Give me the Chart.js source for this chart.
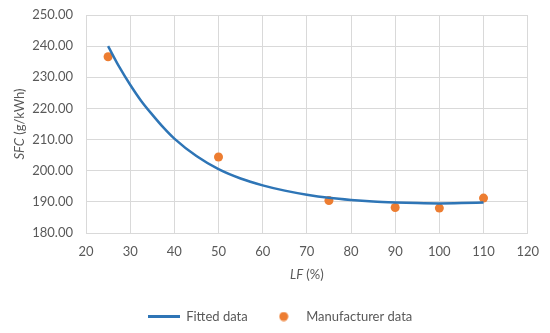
<!DOCTYPE html>
<html>
<head>
<meta charset="utf-8">
<script src="https://cdn.jsdelivr.net/npm/chart.js@4"></script>
<style>
  body { margin: 0; background: #ffffff; }
  #box { width: 550px; height: 333px; }
</style>
</head>
<body>
<div id="box"><canvas id="grafico" width="550" height="333"></canvas></div>
<script>
// dados
const lfFitted  = [25, 27.5, 30, 32.5, 35, 37.5, 40, 45, 50, 55, 60, 65, 70, 75, 80, 85, 90, 95, 100, 105, 110];
const sfcFitted = [240.0, 233.4, 227.6, 222.4, 218.0, 213.9, 210.3, 204.7, 200.5, 197.5, 195.3, 193.6, 192.3, 191.3, 190.6, 190.1, 189.8, 189.6, 189.5, 189.6, 189.8];

const lfMaker  = [25, 50, 75, 90, 100, 110];
const sfcMaker = [236.6, 204.4, 190.4, 188.2, 188.0, 191.2];

const xTicks = [20, 120, 10];   // min, max, passo
const yTicks = [180, 250, 10];

const azul = '#2e75b6';
const laranja = '#ed7d31';
const cinza = '#595959';
const fonte = 'Lato, "Open Sans", sans-serif';

// ícones da legenda
function iconeLinha() {
  const c = document.createElement('canvas');
  c.width = 32; c.height = 3;
  const g = c.getContext('2d');
  g.fillStyle = azul;
  g.fillRect(0, 0, 32, 3);
  return c;
}
function iconeCirculo() {
  const c = document.createElement('canvas');
  c.width = 10; c.height = 10;
  const g = c.getContext('2d');
  g.fillStyle = laranja;
  g.beginPath();
  g.arc(5, 5, 4.5, 0, Math.PI * 2);
  g.fill();
  return c;
}
const icones = [iconeLinha(), iconeCirculo()];

// títulos dos eixos com parte em itálico
const titulosEixos = {
  id: 'titulosEixos',
  afterDraw(chart) {
    const ctx = chart.ctx;
    const area = chart.chartArea;
    function escreve(partes, x, y, rot) {
      ctx.save();
      ctx.translate(x, y);
      ctx.rotate(rot);
      ctx.fillStyle = cinza;
      ctx.textBaseline = 'middle';
      let total = 0;
      partes.forEach(p => { ctx.font = p[1] + ' 13px ' + fonte; total += ctx.measureText(p[0]).width; });
      let pos = -total / 2;
      partes.forEach(p => {
        ctx.font = p[1] + ' 13px ' + fonte;
        ctx.fillText(p[0], pos, 0);
        pos += ctx.measureText(p[0]).width;
      });
      ctx.restore();
    }
    escreve([['SFC', 'italic'], [' (g/kWh)', 'normal']], 20, (area.top + area.bottom) / 2, -Math.PI / 2);
    escreve([['LF', 'italic'], [' (%)', 'normal']], (area.left + area.right) / 2, 275, 0);
  }
};

const grafico = new Chart(document.getElementById('grafico'), {
  type: 'scatter',
  data: {
    datasets: [
      {
        label: 'Fitted data',
        data: lfFitted.map((x, i) => ({ x: x, y: sfcFitted[i] })),
        showLine: true,
        borderColor: azul,
        backgroundColor: azul,
        borderWidth: 2.5,
        pointRadius: 0,
        cubicInterpolationMode: 'monotone'
      },
      {
        label: 'Manufacturer data',
        data: lfMaker.map((x, i) => ({ x: x, y: sfcMaker[i] })),
        backgroundColor: laranja,
        borderColor: laranja,
        borderWidth: 0,
        pointRadius: 4.5,
        pointHoverRadius: 4.5
      }
    ]
  },
  options: {
    responsive: false,
    animation: false,
    layout: { padding: { top: 15, left: 30, right: 20, bottom: 0 } },
    plugins: {
      tooltip: { enabled: false },
      legend: {
        position: 'bottom',
        labels: {
          usePointStyle: true,
          pointStyleWidth: 32,
          boxHeight: 7,
          padding: 20,
          color: cinza,
          font: { family: fonte, size: 13 },
          generateLabels(chart) {
            const itens = Chart.defaults.plugins.legend.labels.generateLabels(chart);
            itens.forEach((it, i) => { it.pointStyle = icones[i]; });
            return itens;
          }
        }
      }
    },
    scales: {
      x: {
        type: 'linear',
        min: xTicks[0],
        max: xTicks[1],
        ticks: { stepSize: xTicks[2], padding: 11, color: cinza, font: { family: fonte, size: 13 } },
        grid: { color: '#d9d9d9', drawTicks: false },
        border: { color: '#d9d9d9' },
        afterFit(scale) { scale.height = 57; }
      },
      y: {
        min: yTicks[0],
        max: yTicks[1],
        ticks: {
          stepSize: yTicks[2],
          padding: 13,
          color: cinza,
          font: { family: fonte, size: 13 },
          callback: v => v.toFixed(2)
        },
        grid: { color: '#d9d9d9', drawTicks: false },
        border: { color: '#d9d9d9' },
        afterFit(scale) {
          scale.width = 56;
          scale.paddingTop = 0;
          scale.paddingBottom = 0;
        }
      }
    }
  },
  plugins: [titulosEixos]
});
</script>
</body>
</html>
